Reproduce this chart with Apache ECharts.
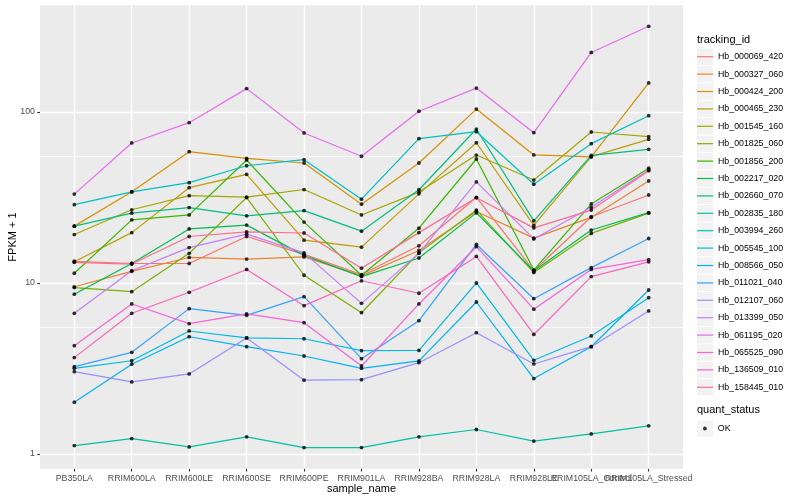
<!DOCTYPE html>
<html><head><meta charset="utf-8">
<script src="https://cdn.jsdelivr.net/npm/echarts@6/dist/echarts.min.js"></script>
<style>html,body{margin:0;padding:0;background:#fff}#c{width:800px;height:500px}</style>
</head><body><div id="c"></div>
<script>
const categories = ['PB350LA','RRIM600LA','RRIM600LE','RRIM600SE','RRIM600PE','RRIM901LA','RRIM928BA','RRIM928LA','RRIM928LE','RRIM105LA_Control','RRIM105LA_Stressed'];

const Hb_000069_420 = [13.4, 13.0, 13.0, 18.7, 14.7, 11.2, 16.5, 31.7, 11.8, 24.4, 32.7];
const Hb_000327_060 = [9.5, 11.7, 14.1, 13.8, 14.2, 11.0, 15.5, 26.2, 18.3, 24.2, 39.5];
const Hb_000424_200 = [21.5, 34.2, 58.6, 53.6, 50.3, 28.9, 50.3, 104, 56.1, 54.6, 148];
const Hb_000465_230 = [13.3, 19.7, 36.1, 43.2, 17.8, 16.2, 33.2, 66.1, 21.7, 54.8, 69.2];
const Hb_001545_160 = [19.2, 26.8, 32.4, 31.8, 35.2, 25.0, 34.0, 56.0, 40.0, 76.4, 71.7];
const Hb_001825_060 = [9.4, 8.9, 14.9, 31.6, 11.1, 6.7, 15.0, 26.7, 11.5, 19.5, 25.6];
const Hb_001856_200 = [11.4, 23.4, 25.0, 52.4, 22.7, 11.1, 20.9, 53.1, 11.9, 29.0, 46.9];
const Hb_002217_020 = [8.6, 13.0, 20.7, 21.8, 14.5, 10.9, 14.0, 25.7, 11.75, 20.4, 25.8];
const Hb_002660_070 = [21.5, 25.6, 27.6, 24.7, 26.5, 20.1, 35.1, 79.5, 23.1, 55.7, 60.5];
const Hb_002835_180 = [1.12, 1.23, 1.10, 1.26, 1.09, 1.09, 1.26, 1.39, 1.19, 1.31, 1.46];
const Hb_003994_260 = [28.7, 34.1, 38.6, 48.5, 52.6, 30.9, 69.8, 76.7, 37.8, 65.3, 95.1];
const Hb_005545_100 = [3.17, 3.51, 5.24, 4.77, 4.72, 4.02, 4.03, 10.0, 3.53, 4.90, 8.20];
const Hb_008566_050 = [2.01, 3.35, 4.85, 4.24, 3.74, 3.17, 3.50, 7.74, 2.76, 4.24, 9.10];
const Hb_011021_040 = [3.24, 3.93, 7.08, 6.47, 8.32, 3.61, 6.02, 16.8, 8.09, 12.3, 18.2];
const Hb_012107_060 = [3.03, 2.64, 2.94, 4.77, 2.70, 2.72, 3.42, 5.12, 3.36, 4.24, 6.86];
const Hb_013399_050 = [6.65, 11.8, 16.1, 19.3, 15.0, 7.6, 14.9, 39.0, 18.1, 27.7, 45.8];
const Hb_061195_020 = [33.1, 65.9, 86.6, 137, 75.4, 55.1, 101, 138, 75.7, 223, 317];
const Hb_065525_090 = [4.30, 7.54, 5.78, 6.59, 5.86, 3.27, 7.54, 16.3, 7.03, 12.0, 13.7];
const Hb_136509_010 = [3.66, 6.65, 8.82, 12.0, 7.37, 10.3, 8.71, 14.3, 5.0, 10.9, 13.3];
const Hb_158445_010 = [13.2, 12.9, 18.7, 19.9, 19.6, 12.2, 19.7, 31.5, 21.0, 26.7, 45.4];

const trackingIds = ['Hb_000069_420','Hb_000327_060','Hb_000424_200','Hb_000465_230','Hb_001545_160','Hb_001825_060','Hb_001856_200','Hb_002217_020','Hb_002660_070','Hb_002835_180','Hb_003994_260','Hb_005545_100','Hb_008566_050','Hb_011021_040','Hb_012107_060','Hb_013399_050','Hb_061195_020','Hb_065525_090','Hb_136509_010','Hb_158445_010'];
const seriesValues = [Hb_000069_420, Hb_000327_060, Hb_000424_200, Hb_000465_230, Hb_001545_160, Hb_001825_060, Hb_001856_200, Hb_002217_020, Hb_002660_070, Hb_002835_180, Hb_003994_260, Hb_005545_100, Hb_008566_050, Hb_011021_040, Hb_012107_060, Hb_013399_050, Hb_061195_020, Hb_065525_090, Hb_136509_010, Hb_158445_010];
const colors = ['#F8766D','#EA8331','#D89000','#C09B00','#A3A500','#7CAE00','#39B600','#00BB4E','#00BF7D','#00C1A3','#00BFC4','#00BAE0','#00B0F6','#35A2FF','#9590FF','#C77CFF','#E76BF3','#FA62DB','#FF62BC','#FF6C91'];
const yTicks = [1, 10, 100];
const statusLevels = ['OK'];

const FONT = '"Liberation Sans", Arial, Helvetica, sans-serif';
const Y_MIN = 0.819, Y_MAX = 420.7;

const chart = echarts.init(document.getElementById('c'), null, {renderer: 'canvas'});

const lineSeries = trackingIds.map((id, i) => ({
  name: id, type: 'line', xAxisIndex: 1, yAxisIndex: 1,
  data: seriesValues[i], symbol: 'none', showSymbol: false,
  lineStyle: {width: 1.2, color: colors[i]}, itemStyle: {color: colors[i]},
  emphasis: {disabled: true}, silent: true, z: 2
}));
const okData = [];
seriesValues.forEach(vals => vals.forEach((v, j) => okData.push([j, v])));

const option = {
  animation: false,
  backgroundColor: '#FFFFFF',
  textStyle: {fontFamily: FONT},
  title: [
    {text: 'tracking_id', left: 697, top: 34.5, padding: 0, textStyle: {fontSize: 11, fontWeight: 'normal', color: '#000', fontFamily: FONT}},
    {text: 'quant_status', left: 697, top: 404.5, padding: 0, textStyle: {fontSize: 11, fontWeight: 'normal', color: '#000', fontFamily: FONT}}
  ],
  grid: [
    {left: 40, right: 117, top: 5.3, bottom: 31.2, show: true, backgroundColor: '#EBEBEB', borderWidth: 0, containLabel: false, outerBoundsMode: 'none'},
    {left: 74.3, right: 151.3, top: 5.3, bottom: 31.2, show: false, containLabel: false, outerBoundsMode: 'none'}
  ],
  legend: [
    {data: trackingIds, orient: 'vertical', left: 697, top: 48.5, padding: 0, itemWidth: 16, itemHeight: 16.4, itemGap: 1,
     icon: 'rect', itemStyle: {color: '#F2F2F2', borderWidth: 0}, formatter: () => '', textStyle: {fontSize: 9, lineHeight: 16.4},
     selectedMode: false, z: 2},
    {data: trackingIds, orient: 'vertical', left: 697, top: 48, padding: 0, itemWidth: 16, itemHeight: 1.2, itemGap: 0,
     icon: 'rect', itemStyle: {borderWidth: 0}, textStyle: {fontSize: 8.8, lineHeight: 17.4, color: '#000', fontFamily: FONT},
     selectedMode: false, z: 3},
    {data: statusLevels, orient: 'vertical', left: 697, top: 420.3, padding: 0, itemWidth: 16, itemHeight: 16.4, itemGap: 1,
     icon: 'rect', itemStyle: {color: '#F2F2F2', borderWidth: 0}, formatter: () => '', textStyle: {fontSize: 9, lineHeight: 16.4},
     selectedMode: false, z: 2},
    {data: statusLevels, orient: 'vertical', left: 703, top: 422.5, padding: 0, itemWidth: 3.8, itemHeight: 3.8, itemGap: 0,
     icon: 'circle', itemStyle: {color: '#000', borderWidth: 0}, textStyle: {fontSize: 8.8, lineHeight: 12, color: '#000', fontFamily: FONT, padding: [0, 0, 0, 6]},
     selectedMode: false, z: 3}
  ],
  xAxis: [
    {gridIndex: 0, type: 'value', min: 0, max: 1, show: false},
    {gridIndex: 1, type: 'category', data: categories, boundaryGap: false,
     axisLine: {show: false},
     axisTick: {show: true, interval: 0, length: 2.75, lineStyle: {color: '#333333', width: 1.1}},
     axisLabel: {interval: 0, fontSize: 8.8, color: '#4D4D4D', margin: 5, fontFamily: FONT, hideOverlap: false},
     splitLine: {show: true, interval: 0, lineStyle: {color: '#FFFFFF', width: 1.42}},
     name: 'sample_name', nameLocation: 'middle', nameGap: 14.7, nameMoveOverlap: false,
     nameTextStyle: {fontSize: 11, color: '#000', fontFamily: FONT}}
  ],
  yAxis: [
    {gridIndex: 0, type: 'log', logBase: 10, min: Y_MIN, max: Y_MAX,
     axisLine: {show: false},
     axisTick: {show: true, length: 2.75, customValues: yTicks, lineStyle: {color: '#333333', width: 1.1}},
     axisLabel: {customValues: yTicks, fontSize: 8.8, color: '#4D4D4D', margin: 5, fontFamily: FONT,
                 formatter: v => String(Math.round(v))},
     splitLine: {show: true, lineStyle: {color: '#FFFFFF', width: 1.42}},
     minorTick: {show: false, splitNumber: 2},
     minorSplitLine: {show: true, lineStyle: {color: '#FFFFFF', width: 0.71}},
     name: 'FPKM + 1', nameLocation: 'middle', nameGap: 22, nameMoveOverlap: false,
     nameTextStyle: {fontSize: 11, color: '#000', fontFamily: FONT}},
    {gridIndex: 1, type: 'log', logBase: 10, min: Y_MIN, max: Y_MAX, show: false,
     splitLine: {show: false}}
  ],
  series: lineSeries.concat([{
    name: 'OK', type: 'scatter', xAxisIndex: 1, yAxisIndex: 1, data: okData,
    symbol: 'circle', symbolSize: 3.8, itemStyle: {color: '#000000'},
    emphasis: {disabled: true}, silent: true, z: 5
  }])
};
chart.setOption(option);
</script>
</body></html>
